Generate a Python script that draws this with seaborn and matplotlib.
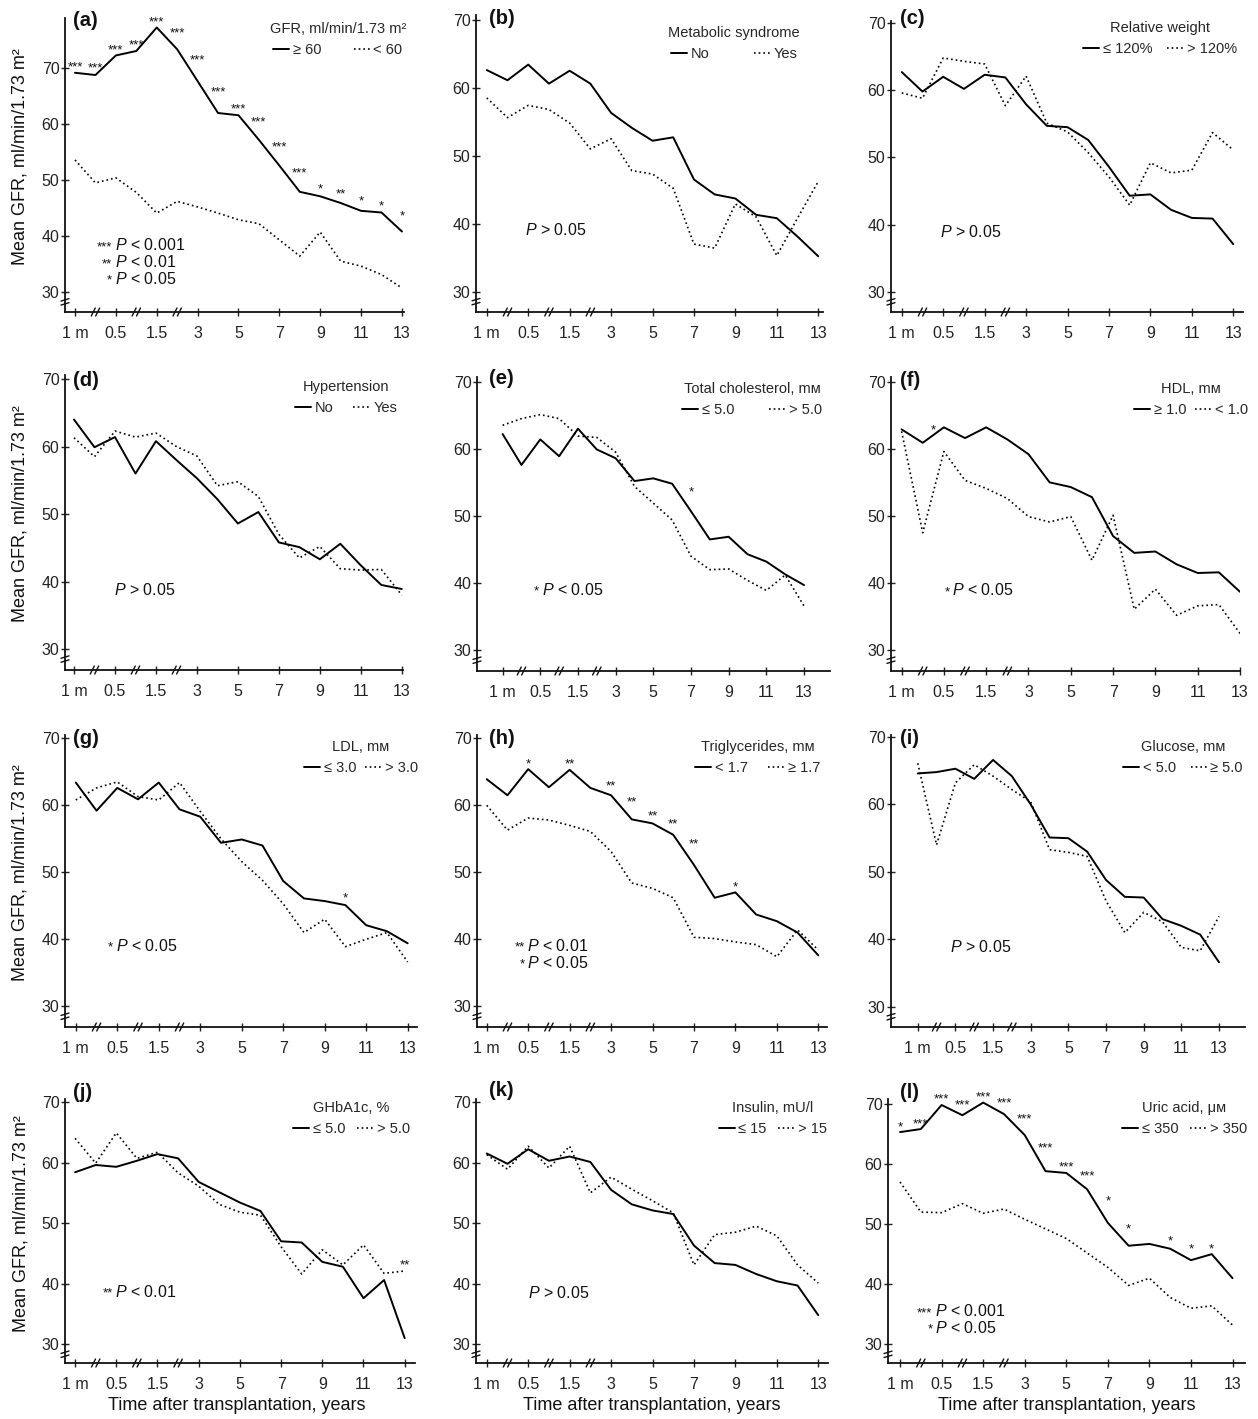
import numpy as np
import matplotlib
matplotlib.use("Agg")
import matplotlib.pyplot as plt
import seaborn as sns
from matplotlib.lines import Line2D
from matplotlib.transforms import IdentityTransform

# ---------------- data ----------------
time_idx = list(range(17))          # 1m, 3m, 6m, 1y, 1.5y, 2y, 3..13 y
tick_pos = [0, 2, 4, 6, 8, 10, 12, 14, 16]
tick_labels = ["1 m", "0.5", "1.5", "3", "5", "7", "9", "11", "13"]
break_pos = [1, 3, 5]
y_ticks = [30, 40, 50, 60, 70]

a_solid = [69.2, 68.8, 72.3, 73.1, 77.3, 73.4, 67.7, 62.0, 61.6, 57.2, 52.6, 47.9, 47.1, 45.9, 44.5, 44.2, 40.8]
a_dotted = [53.6, 49.5, 50.4, 47.8, 44.1, 46.2, 45.2, 44.1, 42.9, 42.2, 39.3, 36.4, 40.7, 35.5, 34.6, 33.1, 30.7]
b_solid = [62.6, 61.1, 63.4, 60.6, 62.5, 60.6, 56.3, 54.1, 52.2, 52.7, 46.5, 44.3, 43.7, 41.3, 40.8, 38.1, 35.2]
b_dotted = [58.5, 55.6, 57.4, 56.8, 54.8, 51.0, 52.5, 47.8, 47.3, 45.2, 37.0, 36.4, 42.9, 41.0, 35.3, 40.8, 46.2]
c_solid = [62.7, 59.8, 62.0, 60.2, 62.3, 61.9, 57.9, 54.7, 54.5, 52.6, 48.6, 44.3, 44.5, 42.2, 41.0, 40.9, 37.1]
c_dotted = [59.6, 58.8, 64.8, 64.3, 63.9, 57.7, 62.1, 55.1, 53.8, 50.7, 47.1, 42.9, 49.2, 47.7, 48.1, 53.7, 51.1]
d_solid = [64.0, 59.9, 61.4, 56.0, 60.8, 58.0, 55.3, 52.2, 48.6, 50.3, 45.8, 45.1, 43.3, 45.6, 42.4, 39.5, 38.9]
d_dotted = [61.3, 58.5, 62.3, 61.4, 62.0, 60.0, 58.6, 54.2, 54.8, 52.6, 47.0, 43.5, 45.2, 41.9, 41.7, 41.8, 38.0]
e_solid = [62.2, 57.6, 61.4, 58.9, 63.0, 59.9, 58.6, 55.2, 55.6, 54.8, 50.7, 46.5, 46.9, 44.3, 43.2, 41.3, 39.7]
e_dotted = [63.5, 64.5, 65.1, 64.5, 61.9, 61.7, 59.5, 54.4, 51.9, 49.4, 44.0, 42.0, 42.1, 40.4, 38.9, 41.2, 36.6]
f_solid = [62.9, 60.9, 63.2, 61.6, 63.2, 61.4, 59.2, 55.0, 54.3, 52.8, 47.0, 44.5, 44.7, 42.8, 41.5, 41.6, 38.7]
f_dotted = [62.6, 47.5, 59.6, 55.3, 54.1, 52.6, 49.9, 49.1, 49.9, 43.4, 50.1, 36.1, 39.1, 35.2, 36.6, 36.8, 32.5]
g_solid = [63.4, 59.2, 62.6, 60.9, 63.4, 59.4, 58.3, 54.4, 54.9, 54.0, 48.7, 46.1, 45.7, 45.1, 42.1, 41.2, 39.4]
g_dotted = [60.8, 62.6, 63.5, 61.3, 60.8, 63.4, 59.1, 55.0, 51.6, 48.8, 45.3, 41.0, 43.0, 38.9, 40.0, 41.0, 36.6]
h_solid = [63.9, 61.5, 65.4, 62.7, 65.3, 62.6, 61.5, 57.9, 57.3, 55.6, 51.1, 46.2, 47.0, 43.7, 42.7, 41.0, 37.6]
h_dotted = [60.0, 56.3, 58.1, 57.8, 57.0, 56.1, 53.1, 48.4, 47.6, 46.2, 40.3, 40.1, 39.6, 39.2, 37.4, 41.4, 38.4]
i_solid = [64.6, 64.8, 65.3, 63.8, 66.6, 64.2, 60.0, 55.1, 55.0, 53.0, 48.8, 46.3, 46.2, 43.0, 42.0, 40.7, 36.6]
i_dotted = [66.1, 54.0, 63.2, 65.9, 64.2, 62.2, 60.4, 53.3, 52.9, 52.3, 45.7, 41.0, 44.0, 42.6, 38.8, 38.3, 43.4]
j_solid = [58.4, 59.6, 59.3, 60.3, 61.4, 60.7, 56.8, 55.1, 53.4, 52.0, 47.0, 46.8, 43.6, 42.8, 37.6, 40.6, 31.0]
j_dotted = [64.0, 59.9, 64.9, 60.7, 61.7, 58.3, 56.1, 53.1, 51.8, 51.3, 46.1, 41.6, 45.6, 43.1, 46.4, 41.7, 42.1]
k_solid = [61.5, 59.8, 62.2, 60.3, 61.0, 60.1, 55.5, 53.1, 52.1, 51.5, 46.3, 43.4, 43.1, 41.6, 40.4, 39.7, 34.8]
k_dotted = [61.3, 58.9, 62.7, 59.1, 62.7, 55.0, 57.6, 55.6, 53.7, 51.7, 43.1, 48.1, 48.5, 49.5, 47.9, 43.1, 40.1]
l_solid = [65.3, 65.8, 69.8, 68.1, 70.2, 68.3, 64.8, 58.8, 58.5, 55.8, 50.2, 46.4, 46.7, 45.9, 44.0, 45.0, 41.0]
l_dotted = [57.0, 52.0, 51.9, 53.4, 51.8, 52.5, 50.8, 49.2, 47.6, 45.2, 42.8, 39.8, 41.0, 37.8, 36.0, 36.4, 33.2]

legend_titles = ["GFR, ml/min/1.73 m\u00b2", "Metabolic syndrome", "Relative weight",
                 "Hypertension", "Total cholesterol, m\u1d0d", "HDL, m\u1d0d",
                 "LDL, m\u1d0d", "Triglycerides, m\u1d0d", "Glucose, m\u1d0d",
                 "GHbA1c, %", "Insulin, mU/l", "Uric acid, \u03bc\u1d0d"]
legend_labels = [("\u2265 60", "< 60"), ("No", "Yes"), ("\u2264 120%", "> 120%"),
                 ("No", "Yes"), ("\u2264 5.0", "> 5.0"), ("\u2265 1.0", "< 1.0"),
                 ("\u2264 3.0", "> 3.0"), ("< 1.7", "\u2265 1.7"), ("< 5.0", "\u2265 5.0"),
                 ("\u2264 5.0", "> 5.0"), ("\u2264 15", "> 15"), ("\u2264 350", "> 350")]

# significance marks (x position, label) and series they sit on
a_star_x = list(range(17))
a_star_lab = ["***"] * 12 + ["*", "**", "*", "*", "*"]
e_star_x, e_star_lab = [10], ["*"]
f_star_x, f_star_lab = [1.5], ["*"]
g_star_x, g_star_lab = [13], ["*"]
h_star_x = [2, 4, 6, 7, 8, 9, 10, 12]
h_star_lab = ["*", "**", "**", "**", "**", "**", "**", "*"]
j_star_x, j_star_lab = [16], ["**"]
l_star_x = [0, 1, 2, 3, 4, 5, 6, 7, 8, 9, 10, 11, 13, 14, 15]
l_star_lab = ["*"] + ["***"] * 9 + ["*", "*", "*", "*", "*"]

p_a = [("***", "< 0.001"), ("**", "< 0.01"), ("*", "< 0.05")]
p_ns = [("", "> 0.05")]
p_05 = [("*", "< 0.05")]
p_h = [("**", "< 0.01"), ("*", "< 0.05")]
p_j = [("**", "< 0.01")]
p_l = [("***", "< 0.001"), ("*", "< 0.05")]

# ---------------- style ----------------
W, H = 1258, 1419
sns.set_style("ticks")
plt.rcParams["font.family"] = ["Liberation Sans", "DejaVu Sans"]
plt.rcParams["mathtext.fontset"] = "custom"
plt.rcParams["mathtext.it"] = "Liberation Sans:italic"
plt.rcParams["mathtext.rm"] = "Liberation Sans"

panels = [
    dict(k="a", rect=(65, 404, 18, 312), xlim=(-0.49, 16.1), ylim=(26.4, 79.0), s=a_solid, d=a_dotted,
         leg=(406, 22), cs=2.2, let=(73, 20), stars=(a_star_x, a_star_lab, "s"), p=(1.96, 38.4, p_a)),
    dict(k="b", rect=(476, 823, 15, 312), xlim=(-0.52, 16.23), ylim=(27.0, 70.7), s=b_solid, d=b_dotted,
         leg=(800, 26), cs=3.1, let=(489, 18), stars=None, p=(1.85, 39.1, p_ns)),
    dict(k="c", rect=(891, 1243, 21, 312), xlim=(-0.52, 16.47), ylim=(27.0, 70.3), s=c_solid, d=c_dotted,
         leg=(1237, 21), cs=1.0, let=(900, 18), stars=None, p=(1.85, 39.0, p_ns)),
    dict(k="d", rect=(65, 403, 375, 670), xlim=(-0.44, 16.06), ylim=(26.9, 70.6), s=d_solid, d=d_dotted,
         leg=(397, 380), cs=1.4, let=(73, 380), stars=None, p=(1.95, 38.9, p_ns)),
    dict(k="e", rect=(477, 830, 377, 671), xlim=(-1.36, 17.38), ylim=(26.9, 70.7), s=e_solid, d=e_dotted,
         leg=(822, 382), cs=2.4, let=(489, 379), stars=(e_star_x, e_star_lab, "s"), p=(2.07, 39.1, p_05)),
    dict(k="f", rect=(891, 1240, 377, 671), xlim=(-0.5, 16.0), ylim=(26.9, 70.7), s=f_solid, d=f_dotted,
         leg=(1248, 382), cs=0.6, let=(900, 380), stars=(f_star_x, f_star_lab, "s"), p=(2.4, 39.0, p_05)),
    dict(k="g", rect=(65, 417, 735, 1027), xlim=(-0.52, 16.45), ylim=(26.9, 70.5), s=g_solid, d=g_dotted,
         leg=(418, 740), cs=0.6, let=(73, 738), stars=(g_star_x, g_star_lab, "s"), p=(1.93, 39.1, p_05)),
    dict(k="h", rect=(477, 827, 735, 1027), xlim=(-0.47, 16.42), ylim=(26.9, 70.5), s=h_solid, d=h_dotted,
         leg=(820, 740), cs=1.4, let=(489, 738), stars=(h_star_x, h_star_lab, "s"), p=(1.96, 39.1, p_h)),
    dict(k="i", rect=(891, 1245, 735, 1027), xlim=(-1.42, 17.38), ylim=(27.0, 70.3), s=i_solid, d=i_dotted,
         leg=(1243, 740), cs=1.0, let=(900, 738), stars=None, p=(1.72, 39.0, p_ns)),
    dict(k="j", rect=(65, 415, 1099, 1363), xlim=(-0.49, 16.5), ylim=(26.9, 70.5), s=j_solid, d=j_dotted,
         leg=(410, 1101), cs=0.8, let=(73, 1092), stars=(j_star_x, j_star_lab, "d"), p=(1.95, 38.8, p_j)),
    dict(k="k", rect=(476, 828, 1099, 1363), xlim=(-0.52, 16.47), ylim=(26.9, 70.5), s=k_solid, d=k_dotted,
         leg=(827, 1101), cs=0.8, let=(489, 1090), stars=None, p=(1.98, 38.6, p_ns)),
    dict(k="l", rect=(888, 1245, 1099, 1363), xlim=(-0.58, 16.6), ylim=(26.9, 70.8), s=l_solid, d=l_dotted,
         leg=(1247, 1101), cs=0.8, let=(900, 1092), stars=(l_star_x, l_star_lab, "s"), p=(1.7, 35.6, p_l)),
]

fig = plt.figure(figsize=(W / 100, H / 100), dpi=100)
fig.patch.set_facecolor("white")

solid_kw = dict(color="black", linewidth=1.4, linestyle="-")
dot_kw = dict(color="black", linewidth=1.2, linestyle=(0, (1, 1.8)))
ink = "#111111"

axes = []
for n, p in enumerate(panels):
    L, R, T, B = p["rect"]
    ax = fig.add_axes([L / W, 1 - B / H, (R - L) / W, (B - T) / H])
    axes.append(ax)
    sns.lineplot(x=time_idx, y=p["s"], ax=ax, **solid_kw)
    sns.lineplot(x=time_idx, y=p["d"], ax=ax, **dot_kw)
    ax.set_xlim(*p["xlim"])
    ax.set_ylim(*p["ylim"])
    ax.set_xticks(tick_pos)
    ax.set_xticklabels(tick_labels)
    ax.set_yticks(y_ticks)
    ax.tick_params(axis="x", direction="inout", length=6, width=1.0, labelsize=11.5, pad=7, colors="#222222")
    ax.tick_params(axis="y", direction="inout", length=6, width=1.0, labelsize=11.5, pad=1, colors="#222222")
    for sp in ("top", "right"):
        ax.spines[sp].set_visible(False)
    for sp in ("left", "bottom"):
        ax.spines[sp].set_linewidth(1.3)
        ax.spines[sp].set_color(ink)
    ax.set_xlabel("")
    ax.set_ylabel("")
    ax.patch.set_alpha(0)

    # legend
    handles = [Line2D([], [], **solid_kw), Line2D([], [], **dot_kw)]
    lx, ly = p["leg"]
    ax.legend(handles, list(legend_labels[n]), title=legend_titles[n], ncol=2,
              loc="upper right", bbox_to_anchor=(lx / W, 1 - ly / H), bbox_transform=fig.transFigure,
              frameon=False, fontsize=10.5, title_fontsize=10.5, handlelength=1.1,
              handletextpad=0.25, columnspacing=p["cs"], borderaxespad=0, borderpad=0)

    # panel letter
    fx, fy = p["let"]
    fig.text(fx / W, 1 - fy / H, "(%s)" % p["k"], fontsize=14.5, fontweight="bold",
             ha="left", va="center", color=ink)

    # significance stars along lines
    if p["stars"] is not None:
        sx, slab, which = p["stars"]
        vals = p["s"] if which == "s" else p["d"]
        for x, lab in zip(sx, slab):
            y = max(np.interp(x - 0.5, time_idx, vals), np.interp(x, time_idx, vals))
            ax.annotate(lab, (x, y), xytext=(0, 1.5), textcoords="offset points",
                        ha="center", va="baseline", fontsize=9.5, color=ink)

    # P value legend
    px_, py_, plines = p["p"]
    for i, (st, txt) in enumerate(plines):
        ax.annotate(r"$\it{P}$ " + txt, (px_, py_), xytext=(0, -4 - 12 * i), textcoords="offset points",
                    ha="left", va="baseline", fontsize=11.5, color=ink)
        if st:
            ax.annotate(st, (px_, py_), xytext=(-2, -4 - 12 * i), textcoords="offset points",
                        ha="right", va="baseline", fontsize=9.5, color=ink)

    if n % 3 == 0:
        ax.set_ylabel("Mean GFR, ml/min/1.73 m\u00b2", fontsize=13, color=ink)
        ax.yaxis.set_label_coords((29 - L) / (R - L), 0.53)
    if n >= 9:
        ax.set_xlabel("Time after transplantation, years", fontsize=13, color=ink)
        ax.xaxis.set_label_coords(0.49 if n == 9 else 0.5, -34 / (B - T))

# axis break marks (decoration)
for n, ax in enumerate(axes):
    p = panels[n]
    ymin = p["ylim"][0]
    for bx in break_pos:
        cx, cy = ax.transData.transform((bx, ymin))
        for dx in (-2.2, 2.2):
            fig.add_artist(Line2D([cx + dx - 2, cx + dx + 2], [cy - 4, cy + 4], color=ink,
                                  lw=1.0, transform=IdentityTransform()))
    sx0, sy30 = ax.transData.transform((p["xlim"][0], 30))
    cy = sy30 - 10
    for dy in (-2, 2):
        fig.add_artist(Line2D([sx0 - 4, sx0 + 4], [cy + dy - 1.2, cy + dy + 1.2], color=ink,
                              lw=1.0, transform=IdentityTransform()))

fig.savefig("out.png", dpi=100)
